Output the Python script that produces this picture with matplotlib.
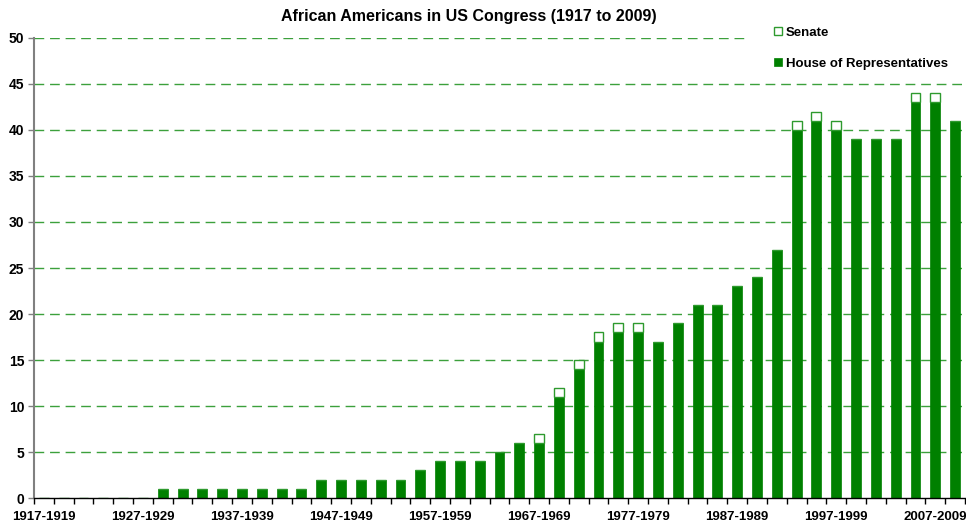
import matplotlib
matplotlib.use("Agg")
import matplotlib.pyplot as plt
from matplotlib.patches import Rectangle
import numpy as np

plt.rcParams['font.family'] = ['Liberation Sans', 'DejaVu Sans']

congresses = [f"{y}-{y+2}" for y in range(1917, 2011, 2)]
house = [0, 0, 0, 0, 0, 0, 1, 1, 1, 1, 1, 1, 1, 1, 2, 2, 2, 2, 2, 3,
         4, 4, 4, 5, 6, 6, 11, 14, 17, 18, 18, 17, 19, 21, 21, 23, 24, 27,
         40, 41, 40, 39, 39, 39, 43, 43, 41]
senate = [0, 0, 0, 0, 0, 0, 0, 0, 0, 0, 0, 0, 0, 0, 0, 0, 0, 0, 0, 0,
          0, 0, 0, 0, 0, 1, 1, 1, 1, 1, 1, 0, 0, 0, 0, 0, 0, 0,
          1, 1, 1, 0, 0, 0, 1, 1, 0]
yticks = list(range(0, 55, 5))

W, H = 966, 526
fig = plt.figure(figsize=(W / 100, H / 100), dpi=100)
ax = fig.add_axes([34 / W, 28 / H, (965 - 34) / W, (498 - 38) / H])

x = np.arange(len(congresses))
green = '#008000'
b_house = ax.bar(x, house, width=0.5, color=green, edgecolor=green, linewidth=0.5, zorder=3,
                 label='House of Representatives')
b_sen = ax.bar(x, senate, width=0.5, bottom=house, facecolor='white', edgecolor='#2e9a2e',
               linewidth=1.0, zorder=3, label='Senate')

ax.set_xlim(-0.5, len(congresses) - 0.5)
ax.set_ylim(0, 50)

# grid
for v in yticks[1:]:
    ax.axhline(v, color='#3ca03c', lw=1.0, dashes=(7, 4.2), zorder=1)

# white box behind legend (covers top gridline as in reference)
ax.add_patch(Rectangle((0.767, 0.92), 0.25, 0.12, transform=ax.transAxes,
                       facecolor='white', edgecolor='none', zorder=2, clip_on=False))

# axes styling
for s in ['top', 'right']:
    ax.spines[s].set_visible(False)
ax.spines['left'].set_color('#808080')
ax.spines['left'].set_linewidth(1.5)
ax.spines['bottom'].set_color('black')
ax.spines['bottom'].set_linewidth(1.0)
ax.spines['left'].set_zorder(4)
ax.spines['bottom'].set_zorder(4)

ax.set_yticks(yticks)
ax.set_yticklabels([str(v) for v in yticks], fontsize=10, fontweight='bold')
ax.tick_params(axis='y', length=4, width=1, color='#808080', pad=3)

label_idx = list(range(0, len(congresses), 5))
ax.set_xticks(label_idx)
ax.set_xticklabels([congresses[i] for i in label_idx], fontsize=9.5, fontweight='bold')
ax.tick_params(axis='x', which='major', length=0, pad=9)
ax.set_xticks(np.arange(-0.5, len(congresses), 1), minor=True)
ax.tick_params(axis='x', which='minor', length=4, width=1, color='black')

fig.text(469 / W, 1 - 17 / H, 'African Americans in US Congress (1917 to 2009)',
         ha='center', va='center', fontsize=11.5, fontweight='bold')

leg = ax.legend(handles=[b_sen, b_house], labels=['Senate', 'House of Representatives'],
                loc='upper left', bbox_to_anchor=(771 / W, 1 - 24 / H),
                bbox_transform=fig.transFigure, frameon=False,
                prop={'size': 9.5, 'weight': 'bold'}, handlelength=0.6, handleheight=0.6,
                handletextpad=0.3, labelspacing=1.45, borderpad=0.2, borderaxespad=0)
leg.set_zorder(5)

fig.savefig('out.png', dpi=100)
